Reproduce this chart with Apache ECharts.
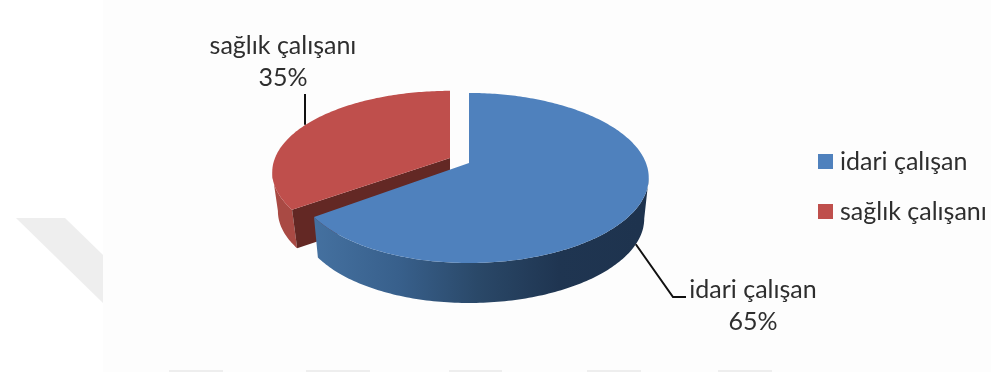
<!DOCTYPE html>
<html>
<head>
<meta charset="utf-8">
<style>html,body{margin:0;padding:0;background:#fff}#chart{width:997px;height:372px}</style>
<script src="https://cdn.jsdelivr.net/npm/echarts@6/dist/echarts.min.js"></script>
</head>
<body>
<div id="chart"></div>
<script>
// Staff breakdown
const categories = ['idari çalışan', 'sağlık çalışanı'];
const shares = [65, 35];
const percentLabels = ['65%', '35%'];

// Slice styling
const topColors = ['#4F81BD', '#BF4F4C'];
const cutColor = '#632824';
const textColor = '#2E2E2E';

// Projection of the tilted disc (perspective foreshortens the far half)
const K = 0.176;
const BOTTOM_SY = 0.99;
const FRONT_FROM = 100, FRONT_TO = 260;       // rim angles facing the viewer
const discs = [
  { apex: [469, 163], rx: 174.1, ry: 82.4, skew: 0.0165, depth: 41, sx: 0.975 },
  { apex: [450, 158], rx: 175, ry: 79, skew: 0, depth: 39, sx: 0.968 } // pulled-out slice
];
const labelAnchors = [[753, 290], [283, 46]]; // first line centre of each callout
const labelLineGap = 32;

function project(d, deg, bottom) {
  const t = deg * Math.PI / 180;
  const u = Math.sin(t), v = Math.cos(t), w = 1 + K * v;
  const px = d.rx * u / w * (1 + d.skew * u), py = -d.ry * v / w;
  return bottom
    ? [d.apex[0] + px * d.sx, d.apex[1] + d.depth + py * BOTTOM_SY]
    : [d.apex[0] + px, d.apex[1] + py];
}
function arc(d, from, to, bottom) {
  const out = [];
  const n = Math.ceil(Math.abs(to - from));
  for (let i = 0; i <= n; i++) out.push(project(d, from + (to - from) * i / n, bottom));
  return out;
}
function poly(points, fill, z2) {
  return { type: 'polygon', z2: z2, silent: true, shape: { points: points }, style: { fill: fill } };
}
function wallFill(i) {
  if (i === 0) {
    return new echarts.graphic.LinearGradient(317, 0, 640, 0, [
      { offset: 0, color: '#44709F' },
      { offset: 0.25, color: '#38608C' },
      { offset: 0.5, color: '#2A4868' },
      { offset: 0.75, color: '#1F3551' },
      { offset: 1, color: '#1E334E' }
    ], true);
  }
  return '#A94A44';
}

function renderSlice(params, api) {
  const i = params.seriesIndex;
  const total = shares.reduce((a, b) => a + b, 0);
  const before = shares.slice(0, i).reduce((a, b) => a + b, 0);
  const a0 = before / total * 360;
  const a1 = (before + api.value(0)) / total * 360;
  const mid = (a0 + a1) / 2;
  const d = discs[i];
  const apex = d.apex;
  const apexBottom = [apex[0], apex[1] + d.depth];
  const children = [];

  // Outer wall on the viewer's side of the rim
  const w0 = Math.max(a0, FRONT_FROM), w1 = Math.min(a1, FRONT_TO);
  children.push(poly(arc(d, w0, w1, false).concat(arc(d, w1, w0, true)), wallFill(i), 1));
  // Cut face of the pulled-out slice, seen through the gap
  if (i === 1) {
    children.push(poly([apex, project(d, a0, false), project(d, a0, true), apexBottom], cutColor, 2));
  }
  // Top surface
  children.push(poly([apex].concat(arc(d, a0, a1, false)), topColors[i], 3));

  // Leader line leaving the rim at the slice's middle angle
  const leader = i === 0
    ? [project(d, mid, true), [673, 297], [686, 297]]
    : [[305, project(d, mid, false)[1]], [305, 94]];
  children.push({
    type: 'polyline', z2: 4, silent: true,
    shape: { points: leader },
    style: { stroke: '#111111', lineWidth: 2, fill: 'none' }
  });

  // Callout text
  const at = labelAnchors[i];
  [categories[i], percentLabels[i]].forEach(function (line, k) {
    children.push({
      type: 'text', z2: 5, silent: true,
      style: {
        x: at[0], y: at[1] + k * labelLineGap, text: line,
        fill: textColor, font: '25px Lato', align: 'center', verticalAlign: 'middle'
      }
    });
  });
  return { type: 'group', children: children };
}

const chart = echarts.init(document.getElementById('chart'), null, { renderer: 'canvas' });
chart.setOption({
  animation: false,
  backgroundColor: '#ffffff',
  graphic: [
    { type: 'rect', z: 0, silent: true, shape: { x: 103, y: 0, width: 888, height: 372 }, style: { fill: '#FDFDFD' } },
    { type: 'polygon', z: 0, silent: true, shape: { points: [[16, 218], [65, 218], [103, 255], [103, 303]] }, style: { fill: '#EEEEEE' } },
    { type: 'rect', z: 0, silent: true, shape: { x: 169, y: 370, width: 54, height: 2 }, style: { fill: '#EEEEEE' } },
    { type: 'rect', z: 0, silent: true, shape: { x: 306, y: 370, width: 64, height: 2 }, style: { fill: '#EEEEEE' } },
    { type: 'rect', z: 0, silent: true, shape: { x: 449, y: 370, width: 53, height: 2 }, style: { fill: '#EEEEEE' } },
    { type: 'rect', z: 0, silent: true, shape: { x: 587, y: 370, width: 54, height: 2 }, style: { fill: '#EEEEEE' } },
    { type: 'rect', z: 0, silent: true, shape: { x: 718, y: 370, width: 54, height: 2 }, style: { fill: '#EEEEEE' } }
  ],
  legend: {
    data: categories,
    orient: 'vertical',
    left: 813,
    top: 144,
    icon: 'rect',
    itemWidth: 15,
    itemHeight: 15,
    itemGap: 25,
    selectedMode: false,
    textStyle: { color: textColor, fontFamily: 'Lato', fontSize: 25, padding: [0, 0, 0, 2] }
  },
  series: categories.map(function (name, i) {
    return {
      type: 'custom',
      name: name,
      coordinateSystem: 'none',
      // the pulled-out slice sits behind the larger one
      z: i === 0 ? 3 : 2,
      clip: false,
      silent: true,
      itemStyle: { color: topColors[i] },
      renderItem: renderSlice,
      data: [[shares[i]]]
    };
  })
});
</script>
</body>
</html>
